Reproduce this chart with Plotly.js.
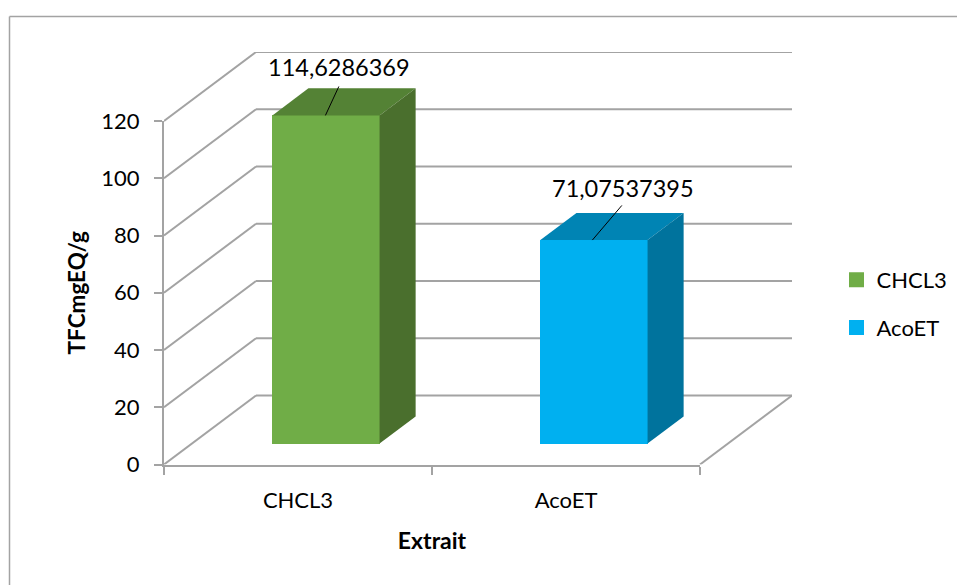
<!DOCTYPE html>
<html>
<head>
<meta charset="utf-8">
<script src="https://cdn.plot.ly/plotly-3.0.1.min.js"></script>
<style>html,body{margin:0;padding:0;background:#fff}#chart{width:957px;height:585px}</style>
</head>
<body>
<div id="chart"></div>
<script>
// Extract data
const categories = ["CHCL3", "AcoET"];
const seriesValues = [114.6286369, 71.07537395];
const valueLabels = ["114,6286369", "71,07537395"];
const yTicks = [0, 20, 40, 60, 80, 100, 120];
const categoryBounds = [0, 1, 2];

// Colours per series: front, top and side faces
const frontColors = ["#70ad47", "#00b0f0"];
const topColors = ["#548235", "#0084b4"];
const sideColors = ["#4a6f2d", "#00739d"];
const gridColor = "#a3a3a3";
const FONT = "Lato, sans-serif";
const W = 957, H = 585;
const fx = px => px / W, fy = py => 1 - py / H;

// Oblique projection: depth d in 0..1 shifts a point along x and value
const DX = 0.3433, DV = 24.1;
const projX = (x, d) => x + d * DX;
const projV = (v, d) => v + d * DV;
const BAR_W = 0.4, D0 = 0.304, D1 = 0.696;

const line = (x0, y0, x1, y1) => ({type: "line", xref: "x2", yref: "y2", x0, y0, x1, y1, layer: "below",
  line: {color: gridColor, width: 2}});

// Side wall and back wall gridlines, plus the floor's right edge
const shapes = [];
yTicks.forEach(v => {
  shapes.push(line(projX(0, 0), projV(v, 0), projX(0, 1), projV(v, 1)));
  shapes.push(line(projX(0, 1), projV(v, 1), projX(2, 1), projV(v, 1)));
});
shapes.push(line(projX(2, 0), 0, projX(2, 1), projV(0, 1)));

// Chart frame: top and left edges only
const frame = (x0, y0, x1, y1) => ({type: "line", xref: "paper", yref: "paper", layer: "below",
  x0: fx(x0), y0: fy(y0), x1: fx(x1), y1: fy(y1), line: {color: gridColor, width: 1.5}});
shapes.push(frame(9.5, 16.5, W, 16.5), frame(9.5, 16.5, 9.5, H));

// The visible axes carry ticks and titles; an unfilled trace keeps them on the page
const traces = [{type: "scatter", mode: "none", x: [0.5, 1.5], y: seriesValues, xaxis: "x", yaxis: "y",
  showlegend: false, hoverinfo: "skip"}];
const onDepth = {xaxis: "x2", yaxis: "y2", hoverinfo: "skip"};

categories.forEach((name, i) => {
  const c = i + 0.5, l = c - BAR_W / 2, r = c + BAR_W / 2, v = seriesValues[i];
  // Front face
  traces.push({...onDepth, type: "bar", name, x: [projX(c, D0)], y: [v], base: [projV(0, D0)], width: [BAR_W],
    marker: {color: frontColors[i], line: {width: 0}}, showlegend: false});
  // Top face
  traces.push({...onDepth, type: "scatter", mode: "lines", fill: "toself", fillcolor: topColors[i], showlegend: false,
    line: {width: 0, color: topColors[i]},
    x: [projX(l, D0), projX(r, D0), projX(r, D1), projX(l, D1), projX(l, D0)],
    y: [projV(v, D0), projV(v, D0), projV(v, D1), projV(v, D1), projV(v, D0)]});
  // Side face
  traces.push({...onDepth, type: "scatter", mode: "lines", fill: "toself", fillcolor: sideColors[i], showlegend: false,
    line: {width: 0, color: sideColors[i]},
    x: [projX(r, D0), projX(r, D1), projX(r, D1), projX(r, D0), projX(r, D0)],
    y: [projV(0, D0), projV(0, D1), projV(v, D1), projV(v, D0), projV(0, D0)]});
});

// Leader lines from each bar top up to its value label
const leaderFoot = [-0.002, -0.006];
const leaderRise = [[0.05, 10.1], [0.11, 12.1]];
categories.forEach((name, i) => {
  const x0 = projX(i + 0.5, D0) + leaderFoot[i];
  const y0 = projV(seriesValues[i], D0);
  traces.push({...onDepth, type: "scatter", mode: "lines", showlegend: false,
    line: {color: "#000", width: 1},
    x: [x0, x0 + leaderRise[i][0]], y: [y0, y0 + leaderRise[i][1]]});
});

// Legend keys
categories.forEach((name, i) => {
  traces.push({...onDepth, type: "bar", name, x: [null], y: [null], legendgroup: name,
    marker: {color: frontColors[i], line: {color: frontColors[i], width: 3}}});
});

// Value labels
const labelX = [339, 622.5], labelY = [67, 188];
const annotations = valueLabels.map((t, i) => ({text: t, xref: "paper", yref: "paper",
  x: fx(labelX[i]), y: fy(labelY[i]), showarrow: false,
  xanchor: "center", yanchor: "middle", font: {family: FONT, size: 23.5, color: "#000"}}));

const layout = {
  width: W, height: H, autosize: false,
  paper_bgcolor: "#ffffff", plot_bgcolor: "rgba(0,0,0,0)",
  margin: {l: 0, r: 0, t: 0, b: 0, pad: 0, autoexpand: false},
  bargap: 0, barmode: "overlay", font: {family: FONT, size: 22, color: "#000"},
  xaxis: {domain: [fx(164), fx(700)], range: [0, 2], anchor: "y", tickmode: "array", tickvals: [0.5, 1.5], ticktext: categories,
    ticks: "outside", ticklen: 15, tickcolor: "rgba(0,0,0,0)", showgrid: false, zeroline: false,
    showline: true, linecolor: gridColor, linewidth: 2,
    minor: {tickmode: "array", tickvals: categoryBounds, ticks: "outside", ticklen: 8, tickwidth: 1.5, tickcolor: gridColor, showgrid: false},
    tickfont: {family: FONT, size: 22, color: "#000"},
    title: {text: "<b>Extrait</b>", standoff: 21, font: {family: FONT, size: 23, color: "#000"}}},
  yaxis: {domain: [fy(464.5), fy(121)], range: [0, 120], anchor: "x", tickmode: "array", tickvals: yTicks,
    ticks: "outside", ticklen: 8, tickwidth: 1.5, tickcolor: gridColor, ticklabelstandoff: 10,
    showgrid: false, zeroline: false, showline: true, linecolor: gridColor, linewidth: 2,
    tickfont: {family: FONT, size: 22, color: "#000"},
    title: {text: "<b>TFCmgEQ/g</b>", standoff: 9, font: {family: FONT, size: 22.5, color: "#000"}}},
  // Hidden axes on the same scale, stretched over the walls and floor
  xaxis2: {domain: [fx(164), fx(792)], range: [0, 628 / 268], anchor: "y2", visible: false, fixedrange: true},
  yaxis2: {domain: [fy(464.5), fy(52)], range: [0, 412.5 / 2.8625], anchor: "x2", visible: false, fixedrange: true},
  legend: {x: fx(836.5), y: fy(259), xanchor: "left", yanchor: "top",
    tracegroupgap: 16, font: {family: FONT, size: 22, color: "#000"}, bgcolor: "rgba(0,0,0,0)"},
  shapes,
  annotations
};

Plotly.newPlot("chart", traces, layout, {displayModeBar: false, responsive: false});
</script>
</body>
</html>
